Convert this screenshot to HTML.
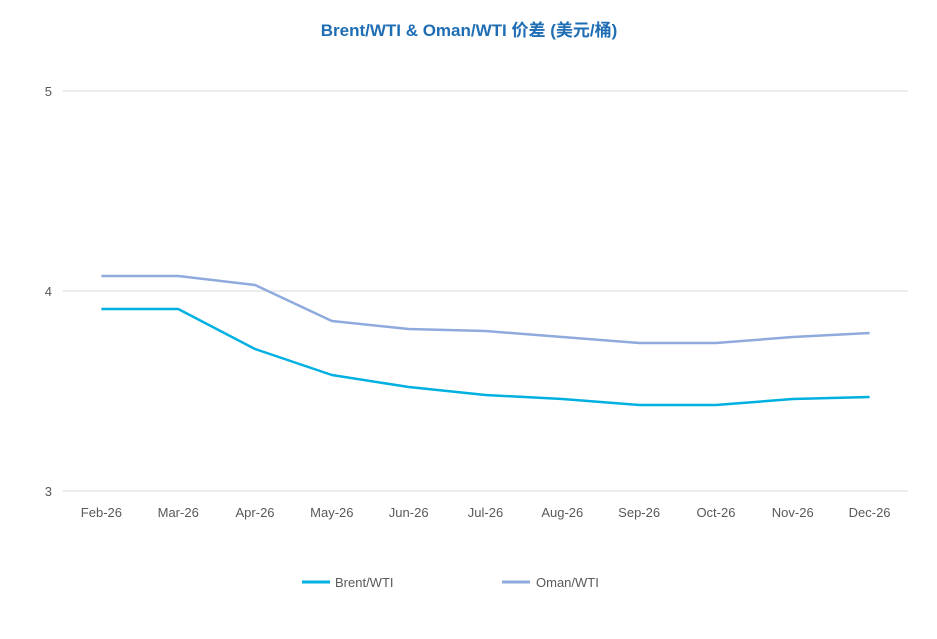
<!DOCTYPE html>
<html><head><meta charset="utf-8"><style>
body{margin:0;background:#fff;}
text{font-family:"Liberation Sans","Noto Sans CJK SC",sans-serif;}
</style></head><body>
<svg id="chart" width="937" height="634">
<text x="469" y="36" text-anchor="middle" font-size="17" font-weight="bold" fill="#1f6eb4">Brent/WTI &amp; Oman/WTI 价差 (美元/桶)</text>
<g id="grid"></g><g id="series"></g>
<g>
<line x1="302" y1="582" x2="330" y2="582" stroke="#00b0e0" stroke-width="3"/>
<text x="335" y="587" font-size="13" fill="#595959">Brent/WTI</text>
<line x1="502" y1="582" x2="530" y2="582" stroke="#8faadc" stroke-width="3"/>
<text x="536" y="587" font-size="13" fill="#595959">Oman/WTI</text>
</g>
</svg>
<script>
const categories=["Feb-26","Mar-26","Apr-26","May-26","Jun-26","Jul-26","Aug-26","Sep-26","Oct-26","Nov-26","Dec-26"];
const brent=[3.91,3.91,3.71,3.58,3.52,3.48,3.46,3.43,3.43,3.46,3.47];
const oman=[4.075,4.075,4.03,3.85,3.81,3.80,3.77,3.74,3.74,3.77,3.79];
const yTicks=[3,4,5];
const NS="http://www.w3.org/2000/svg";
const x0=63,x1=908,yTop=91,yBot=491,yMin=3,yMax=5;
const step=(x1-x0)/categories.length;
const xs=i=>x0+step*(i+0.5);
const ys=v=>yBot-(v-yMin)/(yMax-yMin)*(yBot-yTop);
const grid=document.getElementById('grid'),ser=document.getElementById('series');
function mk(t,a,p){const e=document.createElementNS(NS,t);for(const k in a)e.setAttribute(k,a[k]);p.appendChild(e);return e;}
yTicks.forEach(v=>{
 const l=mk('line',{x1:x0,x2:x1,y1:ys(v),y2:ys(v),stroke:'#d9d9d9','stroke-width':1},grid);
 
 
 const t=mk('text',{x:52,y:ys(v)+5,'text-anchor':'end','font-size':13,fill:'#595959'},grid);
 t.textContent=v;
 
 
});
categories.forEach((c,i)=>{
 const t=mk('text',{x:xs(i),y:517,'text-anchor':'middle','font-size':13,fill:'#595959'},grid);
 t.textContent=c;
 
 
});
function line(d,col,name){
 const p=mk('polyline',{points:d.map((v,i)=>xs(i)+','+ys(v)).join(' '),fill:'none',stroke:col,'stroke-width':2.5,'stroke-linejoin':'round'},ser);
 
 
}
line(oman,'#8faadc','oman-wti-line');
line(brent,'#00b0e0','brent-wti-line');
</script>
</body></html>
